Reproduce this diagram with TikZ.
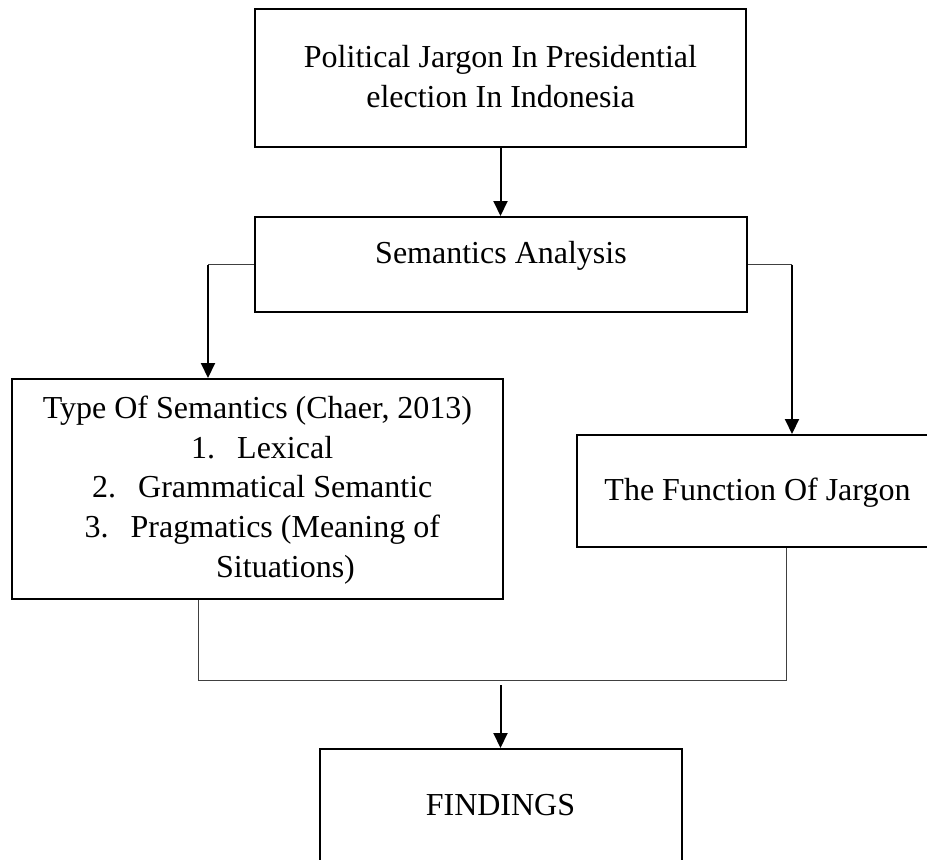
\documentclass[tikz,border=0pt]{standalone}
\usepackage{fontspec}
\setmainfont{Liberation Serif}
\usetikzlibrary{arrows.meta}
\tikzset{
  boxnode/.style={draw=black, line width=2pt, rectangle, inner sep=0pt, fill=none},
  txt/.style={inner sep=0pt, font=\fontsize{32}{40}\selectfont},
  arr/.style={draw=black, line width=2pt, -{Triangle[length=15pt,width=14pt]}},
  thinline/.style={draw=black!75, line width=1pt},
}
\begin{document}
\begin{tikzpicture}[x=1pt, y=-1pt]
\useasboundingbox (0,0) rectangle (927,860);
\clip (0,0) rectangle (927,860);
\fill[white] (0,0) rectangle (927,860);

% boxes
\node[boxnode, minimum width=491pt, minimum height=138pt] (top) at (500.5,78) {};
\node[boxnode, minimum width=492pt, minimum height=95pt] (sem) at (501,264.5) {};
\node[boxnode, minimum width=491pt, minimum height=220pt] (type) at (257.5,489) {};
\node[boxnode, minimum width=363pt, minimum height=112pt] (func) at (758.5,491) {};
\node[boxnode, minimum width=362pt, minimum height=141pt] (find) at (501,819.5) {};

% texts
\node[txt, anchor=base] (toptxta) at (500.5,67) {Political Jargon In Presidential};
\node[txt, anchor=base] (toptxtb) at (500.5,107) {election In Indonesia};
\node[txt, anchor=base] (semtxt) at (501,263) {Semantics Analysis};
\node[txt, anchor=base] (typetxt) at (257.5,418) {Type Of Semantics (Chaer, 2013)};
\node[txt, anchor=base west] (n1) at (191,458) {1.};
\node[txt, anchor=base west] (l1) at (237,458) {Lexical};
\node[txt, anchor=base west] (n2) at (92,497.5) {2.};
\node[txt, anchor=base west] (l2) at (138,497.5) {Grammatical Semantic};
\node[txt, anchor=base west] (n3) at (84.5,537) {3.};
\node[txt, anchor=base west] (l3) at (130.5,537) {Pragmatics (Meaning of};
\node[txt, anchor=base west] (l4) at (216,577) {Situations)};
\node[txt, anchor=base] (functxt) at (757.5,500) {The Function Of Jargon};
\node[txt, anchor=base] (findtxt) at (500.5,815) {FINDINGS};

% connectors
\draw[arr] (top.south) -- (top.south |- sem.north);

\coordinate (semL) at (208,264.5);
\draw[thinline] (sem.west) -- (semL);
\draw[arr] (semL) -- (semL |- type.north);

\coordinate (semR) at (792,264.5);
\draw[thinline] (sem.east) -- (semR);
\draw[arr] (semR) -- (semR |- func.north);

\coordinate (jl) at (198,680);
\coordinate (jr) at (786,680);
\draw[thinline] (type.south -| jl) -- (jl) -- (jr) -- (func.south -| jr);

\coordinate (jm) at (500.5,685);
\draw[arr] (jm) -- (jm |- find.north);
\end{tikzpicture}
\end{document}
